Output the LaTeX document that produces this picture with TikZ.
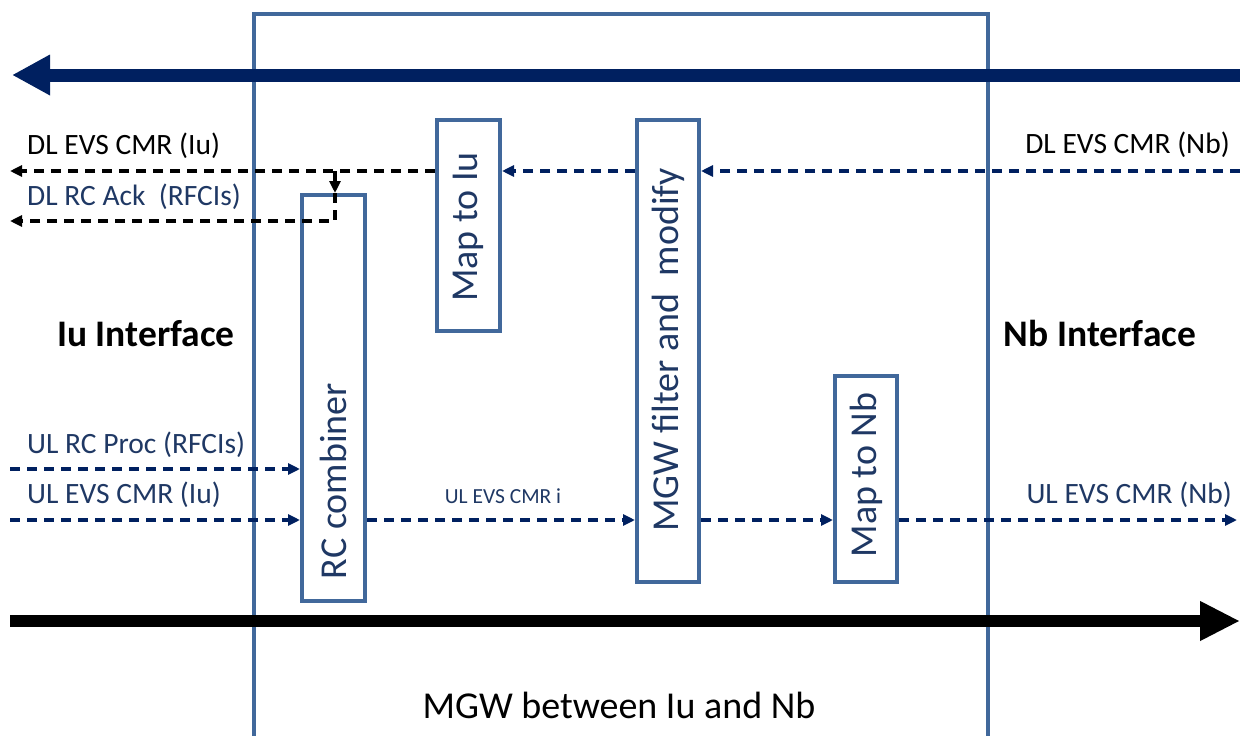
\documentclass[tikz,border=0pt]{standalone}
\usepackage{fontspec}
\setmainfont{Carlito}
\usetikzlibrary{arrows.meta}
\definecolor{navy}{HTML}{002060}
\definecolor{boxblue}{HTML}{41689B}
\definecolor{txtnavy}{HTML}{1F3864}
\begin{document}
\begin{tikzpicture}[x=1pt,y=-1pt,
  box/.style={draw=boxblue, line width=4pt, inner sep=0pt},
  boxtext/.style={text=txtnavy, font=\fontsize{38}{44}\selectfont, inner sep=0pt, rotate=90},
  lbl/.style={font=\fontsize{29.5}{35}\selectfont, inner sep=0pt},
  bold/.style={font=\fontsize{37.5}{44}\selectfont\bfseries, inner sep=0pt},
  tipsm/.style={-{Triangle[length=12pt,width=11pt]}},
  dashln/.style={line width=3.3pt, dash pattern=on 10pt off 7pt},
  dln/.style={dashln, navy, tipsm},
  dlb/.style={dashln, black, tipsm},
  ul/.style={dashln, navy, tipsm}]
\useasboundingbox (0,0) rectangle (1240,736);
% outer MGW box
\draw[boxblue, line width=3.3pt] (254,760) -- (254,14) -- (988,14) -- (988,760);
% thick arrows
\coordinate (topR) at (1240,75);
\coordinate (topL) at (12,75);
\draw[navy, line width=13pt, -{Triangle[length=38pt,width=38pt]}] (topR) -- (topL);
\coordinate (botL) at (10,621);
\coordinate (botR) at (1240,621);
\draw[black, line width=12pt, -{Triangle[length=40pt,width=37pt]}] (botL) -- (botR);
% boxes
\node[box, minimum width=63pt, minimum height=211pt] (mapiu) at (468.5,225.5) {};
\node[box, minimum width=62pt, minimum height=462pt] (filt) at (668,351) {};
\node[box, minimum width=63pt, minimum height=406pt] (rc) at (333.5,398) {};
\node[box, minimum width=62pt, minimum height=206pt] (mapnb) at (866,479) {};
\node[boxtext] (mapiuT) at (468.5,227) {Map to Iu};
\node[boxtext] (filtT) at (668,350) {MGW filter and \ modify};
\node[boxtext] (rcT) at (333.5,481) {RC combiner};
\node[boxtext] (mapnbT) at (866,475) {Map to Nb};
% coordinates
\coordinate (dlNbR) at (1240,171);
\coordinate (dlIuL) at (10,171);
\coordinate (br) at (335,171);
\coordinate (ackC) at (335,221);
\coordinate (ackL) at (10,221);
\coordinate (ulProcL) at (10,469);
\coordinate (ulIuL) at (10,520);
\coordinate (ulNbR) at (1237,520);
% DL connectors
\draw[dln] (dlNbR) -- (filt.east |- dlNbR);
\draw[dln] (filt.west |- dlNbR) -- (mapiu.east |- dlNbR);
\draw[dlb] (mapiu.west |- dlIuL) -- (dlIuL);
\draw[dlb] (br) -- (br |- rc.north);
\draw[dlb] (br |- rc.north) -- (ackC) -- (ackL);
% UL connectors
\draw[ul] (ulProcL) -- (rc.west |- ulProcL);
\draw[ul] (ulIuL) -- (rc.west |- ulIuL);
\draw[ul] (rc.east |- ulIuL) -- (filt.west |- ulIuL);
\draw[ul] (filt.east |- ulIuL) -- (mapnb.west |- ulIuL);
\draw[ul] (mapnb.east |- ulIuL) -- (ulNbR);
% labels
\node[lbl, anchor=base west] (dlIu) at (27,154.5) {DL EVS CMR (Iu)};
\node[lbl, anchor=base west, text=txtnavy] (dlAck) at (27,205.5) {DL RC Ack \ (RFCIs)};
\node[lbl, anchor=base east] (dlNb) at (1230,153.5) {DL EVS CMR (Nb)};
\node[bold, anchor=base] (iuIf) at (146,346) {Iu Interface};
\node[bold, anchor=base] (nbIf) at (1100,346) {Nb Interface};
\node[lbl, anchor=base west, text=txtnavy] (ulProc) at (27,453.5) {UL RC Proc (RFCIs)};
\node[lbl, anchor=base west, text=txtnavy] (ulIu) at (27,503.5) {UL EVS CMR (Iu)};
\node[lbl, anchor=base east, text=txtnavy] (ulNb) at (1232,503) {UL EVS CMR (Nb)};
\node[font=\fontsize{21.5}{26}\selectfont, inner sep=0pt, anchor=base, text=txtnavy] (ulI) at (503,503) {UL EVS CMR i};
\node[font=\fontsize{38}{44}\selectfont, inner sep=0pt, anchor=base] (mgwT) at (619,718) {MGW between Iu and Nb};
\end{tikzpicture}
\end{document}
